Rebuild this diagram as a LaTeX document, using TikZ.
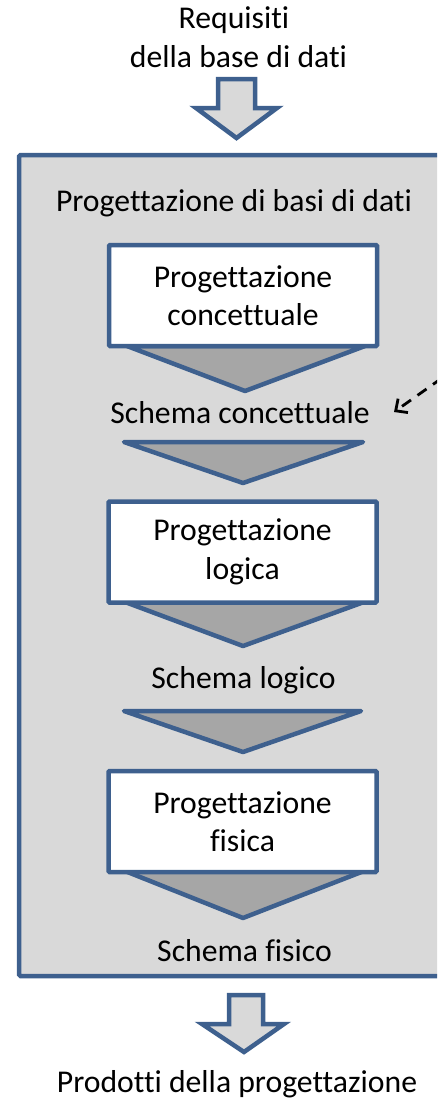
\documentclass[tikz,border=0pt]{standalone}
\usepackage{fontspec}
\setmainfont[Ligatures={NoCommon}]{Carlito}
\usetikzlibrary{arrows.meta}
\definecolor{bordo}{RGB}{62,96,142}
\definecolor{sfondo}{RGB}{217,217,217}
\definecolor{triang}{RGB}{166,166,166}
\tikzset{
  txt/.style={font=\fontsize{31.7}{38.5}\selectfont, inner sep=0pt, text=black},
  fase/.style={txt, draw=bordo, fill=white, line width=4.5pt, minimum width=268pt, minimum height=101pt, align=center, rounded corners=1pt},
  tri/.style={draw=bordo, fill=triang, line width=4.5pt, line join=round},
  blockarrow/.style={draw=bordo, fill=sfondo, line width=4.5pt, line join=miter},
  outer/.style={draw=bordo, fill=sfondo, line width=4.5pt, rounded corners=1.5pt},
  dasharrow/.style={draw=black, line width=2.8pt, dash pattern=on 11pt off 8pt, -{Straight Barb[length=9pt,width=17pt]}}
}
\begin{document}
\begin{tikzpicture}[x=1pt,y=-1pt]
\useasboundingbox (0,0) rectangle (437,1108);
\clip (0,0) rectangle (437,1108);
% top texts
\node[txt, anchor=base] (req1) at (234,29) {Requisiti};
\node[txt, anchor=base] (req2) at (238.5,67) {della base di dati};
% top block arrow
\draw[blockarrow] (218,79) -- (255,79) -- (255,108) -- (277,108) -- (236.5,138) -- (196,108) -- (218,108) -- cycle;
% outer container
\draw[outer] (19,155) rectangle (470,976);
\node[txt, anchor=base] (titolo) at (234,211) {Progettazione di basi di dati};
% triangles (drawn under boxes)
\draw[tri] (127,346) -- (365,346) -- (245,391) -- cycle;
\draw[tri] (124,442) -- (363,442) -- (243,483) -- cycle;
\draw[tri] (125,602) -- (364,602) -- (243,646) -- cycle;
\draw[tri] (124,711) -- (361,711) -- (243,752) -- cycle;
\draw[tri] (125,871) -- (364,871) -- (243,918) -- cycle;
% phase boxes
\node[fase] (concettuale) at (243,295.5) {Progettazione\\concettuale};
\node[fase] (logica) at (242.5,552) {Progettazione\\logica};
\node[fase] (fisica) at (242.5,821.5) {Progettazione\\fisica};
% schema labels
\node[txt, anchor=base] (sconc) at (240,423) {Schema concettuale};
\node[txt, anchor=base] (slog) at (243.5,688) {Schema logico};
\node[txt, anchor=base] (sfis) at (244.5,961) {Schema fisico};
% dashed arrow
\coordinate (dstart) at (442,378);
\coordinate (dend) at (394,412);
\draw[dasharrow] (dstart) -- (dend);
% bottom block arrow
\draw[blockarrow] (229,995) -- (263,995) -- (263,1024) -- (284,1024) -- (244,1052) -- (202,1024) -- (229,1024) -- cycle;
\node[txt, anchor=base] (prodotti) at (237,1092) {Prodotti della progettazione};
\end{tikzpicture}
\end{document}
